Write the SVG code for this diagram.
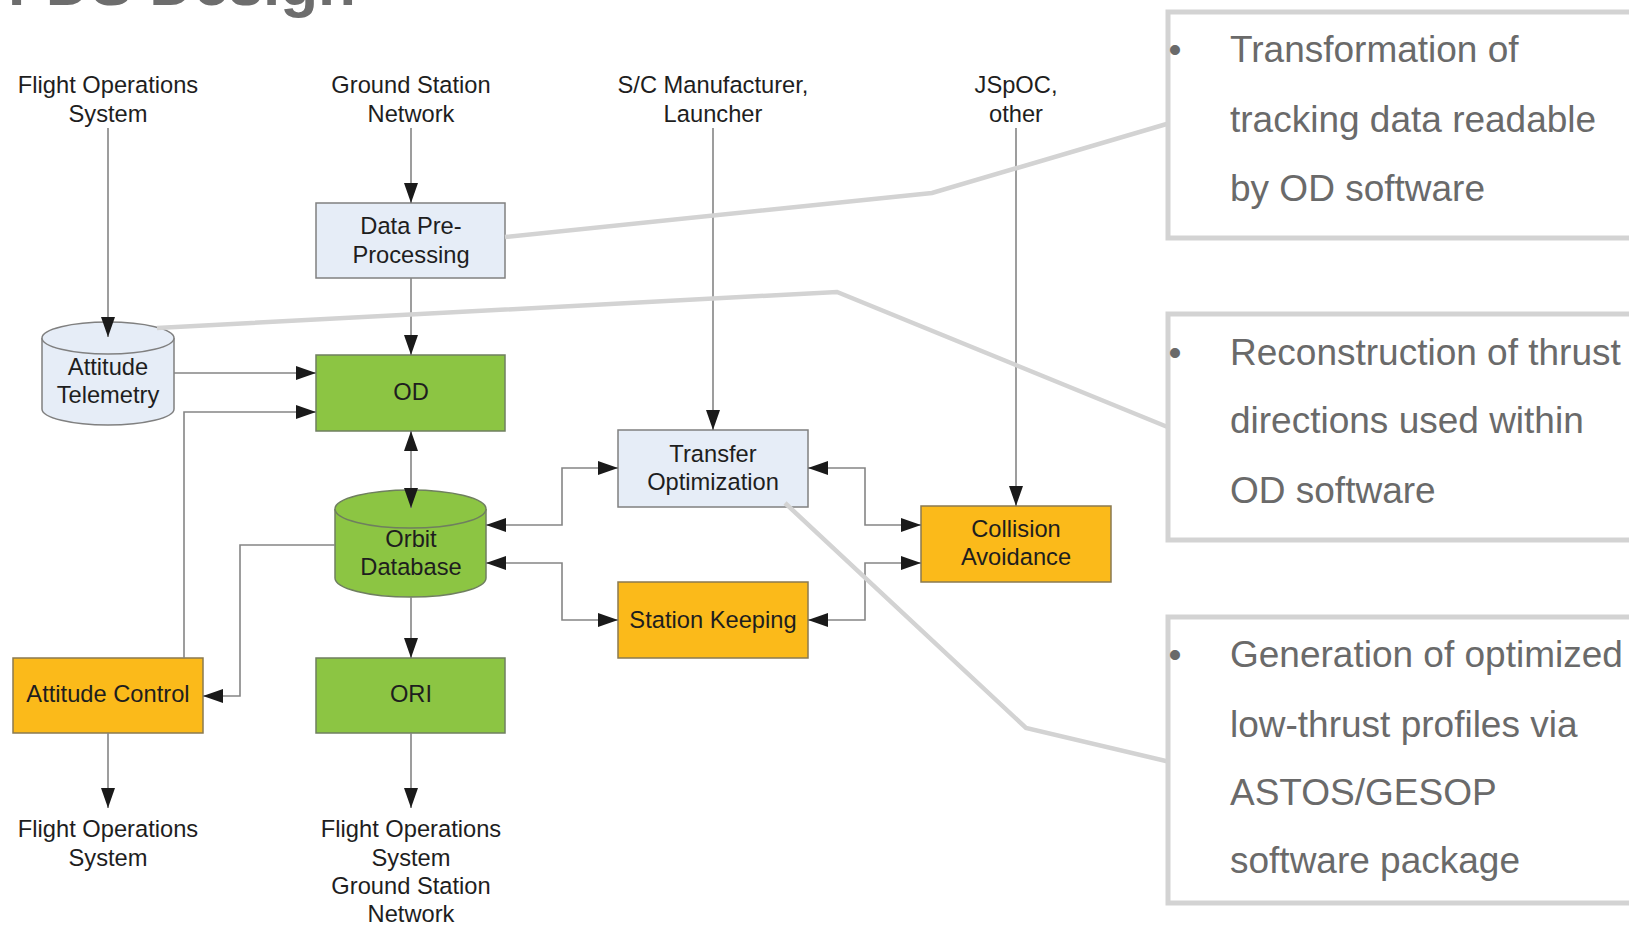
<svg xmlns="http://www.w3.org/2000/svg" width="1629" height="925" viewBox="0 0 1629 925">
  <style>
    text { font-family: "Liberation Sans", Arial, Helvetica, sans-serif; }
    .lbl { font-size: 23.7px; fill: #1e1e1e; text-anchor: middle; }
    .title { font-size: 62px; font-weight: bold; fill: #6d6d6d; }
    .note { font-size: 37px; fill: #6a6a6a; }
    .bullet { font-size: 37px; fill: #6a6a6a; text-anchor: middle; }
    .blue { fill: #e6edf7; stroke: #808080; stroke-width: 1.5; }
    .green { fill: #8cc543; stroke: #6f7f5f; stroke-width: 1.5; }
    .orange { fill: #fbba1a; stroke: #8a7a50; stroke-width: 1.5; }
    .conn { fill: none; stroke: #858585; stroke-width: 1.6; }
    .callout { fill: none; stroke: #d3d3d3; stroke-width: 4.5; stroke-linejoin: miter; }
    .cbox { fill: #ffffff; stroke: #d3d3d3; stroke-width: 5; }
  </style>
  <defs>
    <marker id="arrow" markerUnits="userSpaceOnUse" markerWidth="21" markerHeight="14" refX="20" refY="7" orient="auto-start-reverse">
      <path d="M0,0 L20,7 L0,14 Z" fill="#1a1a1a"/>
    </marker>
  </defs>

  <rect width="1629" height="925" fill="#ffffff"/>

  <!-- page heading, clipped by the top edge -->
  <text class="title" x="8" y="5">FDS Design</text>

  <!-- external sources -->
  <g id="src-fos">
    <text class="lbl" x="108" y="93">Flight Operations</text>
    <text class="lbl" x="108" y="122">System</text>
  </g>
  <g id="src-gsn">
    <text class="lbl" x="411" y="93">Ground Station</text>
    <text class="lbl" x="411" y="122">Network</text>
  </g>
  <g id="src-manufacturer">
    <text class="lbl" x="713" y="93">S/C Manufacturer,</text>
    <text class="lbl" x="713" y="122">Launcher</text>
  </g>
  <g id="src-jspoc">
    <text class="lbl" x="1016" y="93">JSpOC,</text>
    <text class="lbl" x="1016" y="122">other</text>
  </g>

  <!-- processing blocks -->
  <g id="data-preprocessing">
    <rect class="blue" x="316" y="203" width="189" height="75"/>
    <text class="lbl" x="411" y="234">Data Pre-</text>
    <text class="lbl" x="411" y="263">Processing</text>
  </g>
  <g id="attitude-telemetry">
    <path class="blue" d="M42,338 A66,16 0 0 1 174,338 V409 A66,16 0 0 1 42,409 Z"/>
    <path class="blue" fill="none" d="M42,338 A66,16 0 0 0 174,338"/>
    <text class="lbl" x="108" y="375">Attitude</text>
    <text class="lbl" x="108" y="403">Telemetry</text>
  </g>
  <g id="od">
    <rect class="green" x="316" y="355" width="189" height="76"/>
    <text class="lbl" x="411" y="400">OD</text>
  </g>
  <g id="orbit-database">
    <path class="green" d="M335,509 A75.5,19 0 0 1 486,509 V578 A75.5,19 0 0 1 335,578 Z"/>
    <path class="green" fill="none" d="M335,509 A75.5,19 0 0 0 486,509"/>
    <text class="lbl" x="411" y="547">Orbit</text>
    <text class="lbl" x="411" y="575">Database</text>
  </g>
  <g id="transfer-optimization">
    <rect class="blue" x="618" y="430" width="190" height="77"/>
    <text class="lbl" x="713" y="462">Transfer</text>
    <text class="lbl" x="713" y="490">Optimization</text>
  </g>
  <g id="collision-avoidance">
    <rect class="orange" x="921" y="506" width="190" height="76"/>
    <text class="lbl" x="1016" y="537">Collision</text>
    <text class="lbl" x="1016" y="565">Avoidance</text>
  </g>
  <g id="station-keeping">
    <rect class="orange" x="618" y="582" width="190" height="76"/>
    <text class="lbl" x="713" y="628">Station Keeping</text>
  </g>
  <g id="attitude-control">
    <rect class="orange" x="13" y="658" width="190" height="75"/>
    <text class="lbl" x="108" y="702">Attitude Control</text>
  </g>
  <g id="ori">
    <rect class="green" x="316" y="658" width="189" height="75"/>
    <text class="lbl" x="411" y="702">ORI</text>
  </g>

  <!-- output sinks -->
  <g id="sink-fos">
    <text class="lbl" x="108" y="837">Flight Operations</text>
    <text class="lbl" x="108" y="866">System</text>
  </g>
  <g id="sink-fos-gsn">
    <text class="lbl" x="411" y="837">Flight Operations</text>
    <text class="lbl" x="411" y="866">System</text>
    <text class="lbl" x="411" y="894">Ground Station</text>
    <text class="lbl" x="411" y="922">Network</text>
  </g>

  <!-- data-flow connectors (drawn over the cylinders so their tips show) -->
  <g id="connectors">
    <line class="conn" x1="108" y1="128" x2="108" y2="337" marker-end="url(#arrow)"/>
    <line class="conn" x1="411" y1="128" x2="411" y2="203" marker-end="url(#arrow)"/>
    <line class="conn" x1="411" y1="278" x2="411" y2="355" marker-end="url(#arrow)"/>
    <line class="conn" x1="174" y1="373" x2="316" y2="373" marker-end="url(#arrow)"/>
    <polyline class="conn" points="184,658 184,412 316,412" marker-end="url(#arrow)"/>
    <line class="conn" x1="411" y1="431" x2="411" y2="508" marker-start="url(#arrow)" marker-end="url(#arrow)"/>
    <polyline class="conn" points="335,545 240,545 240,696 203,696" marker-end="url(#arrow)"/>
    <line class="conn" x1="411" y1="597" x2="411" y2="658" marker-end="url(#arrow)"/>
    <line class="conn" x1="108" y1="733" x2="108" y2="808" marker-end="url(#arrow)"/>
    <line class="conn" x1="411" y1="733" x2="411" y2="808" marker-end="url(#arrow)"/>
    <line class="conn" x1="713" y1="128" x2="713" y2="430" marker-end="url(#arrow)"/>
    <line class="conn" x1="1016" y1="128" x2="1016" y2="506" marker-end="url(#arrow)"/>
    <polyline class="conn" points="486,525 562,525 562,468 618,468" marker-start="url(#arrow)" marker-end="url(#arrow)"/>
    <polyline class="conn" points="486,563 562,563 562,620 618,620" marker-start="url(#arrow)" marker-end="url(#arrow)"/>
    <polyline class="conn" points="808,468 865,468 865,525 921,525" marker-start="url(#arrow)" marker-end="url(#arrow)"/>
    <polyline class="conn" points="808,620 865,620 865,563 921,563" marker-start="url(#arrow)" marker-end="url(#arrow)"/>
  </g>

  <!-- grey leader lines from the notes to their blocks -->
  <g id="callout-lines">
    <polyline class="callout" points="505,237 932,193 1170,123"/>
    <polyline class="callout" points="157,328 837,292 1170,428"/>
    <polyline class="callout" points="785,503 1026,728 1170,762"/>
  </g>

  <!-- explanatory notes -->
  <g id="note-preprocessing">
    <rect class="cbox" x="1168" y="12" width="520" height="226"/>
    <text class="bullet" x="1175" y="62">•</text>
    <text class="note" x="1230" y="62">Transformation of</text>
    <text class="note" x="1230" y="132">tracking data readable</text>
    <text class="note" x="1230" y="201">by OD software</text>
  </g>
  <g id="note-thrust">
    <rect class="cbox" x="1168" y="314" width="520" height="226"/>
    <text class="bullet" x="1175" y="365">•</text>
    <text class="note" x="1230" y="365">Reconstruction of thrust</text>
    <text class="note" x="1230" y="433">directions used within</text>
    <text class="note" x="1230" y="503">OD software</text>
  </g>
  <g id="note-transfer">
    <rect class="cbox" x="1168" y="617" width="520" height="286"/>
    <text class="bullet" x="1175" y="667">•</text>
    <text class="note" x="1230" y="667">Generation of optimized</text>
    <text class="note" x="1230" y="737">low-thrust profiles via</text>
    <text class="note" x="1230" y="805">ASTOS/GESOP</text>
    <text class="note" x="1230" y="873">software package</text>
  </g>
</svg>
